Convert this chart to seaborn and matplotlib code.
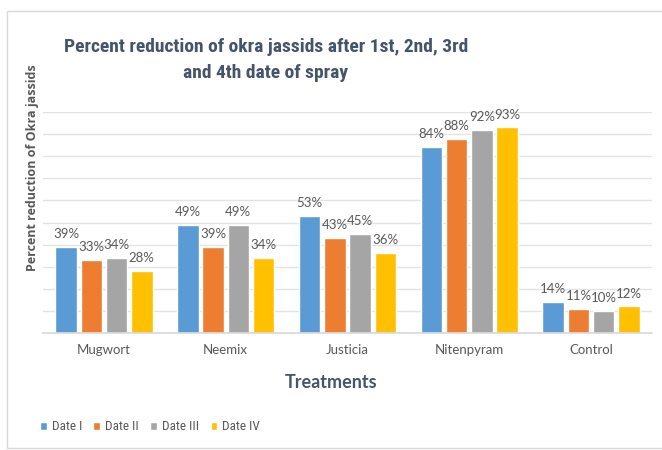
import pandas as pd
import matplotlib.pyplot as plt
import matplotlib.patches as mpatches
from matplotlib import font_manager
import seaborn as sns

treatments = ["Mugwort", "Neemix", "Justicia", "Nitenpyram", "Control"]
dates = ["Date I", "Date II", "Date III", "Date IV"]
date_1 = [39, 49, 53, 84, 14]
date_2 = [33, 39, 43, 88, 11]
date_3 = [34, 49, 45, 92, 10]
date_4 = [28, 34, 36, 93, 12]
colors = ["#5B9BD5", "#ED7D31", "#A5A5A5", "#FFC000"]

rows = []
for d, vals in zip(dates, [date_1, date_2, date_3, date_4]):
    for t, v in zip(treatments, vals):
        rows.append({"Treatment": t, "Date": d, "Value": v})
df = pd.DataFrame(rows)

# pick a condensed face for the title if one is around
installed = {f.name for f in font_manager.fontManager.ttflist}
cond = next((n for n in ["Roboto Condensed", "Asap Condensed", "Sofia Sans Semi Condensed"]
             if n in installed), "Lato")

sns.set_theme(style="white")
plt.rcParams["font.family"] = ["Lato", "DejaVu Sans"]
text_col = "#595959"
title_col = "#44546A"

fig = plt.figure(figsize=(6.62, 4.5), dpi=100)
ax = fig.add_axes([43 / 662, 1 - 333 / 450, 609 / 662, 221 / 450])

sns.barplot(data=df, x="Treatment", y="Value", hue="Date", palette=colors,
            order=treatments, hue_order=dates, width=0.83, gap=0.15,
            saturation=1, ax=ax, legend=True)

for cont in ax.containers:
    ax.bar_label(cont, labels=[f"{int(v)}%" for v in cont.datavalues],
                 padding=5, color=text_col, fontsize=9.5)

ax.set_ylim(0, 100)
ax.set_xlim(-0.5, 4.5)
ax.set_yticks(range(0, 101, 10))
ax.set_yticklabels([])
ax.grid(axis="y", color="#E3E3E3", linewidth=1)
ax.set_axisbelow(True)
for s in ["top", "right", "left"]:
    ax.spines[s].set_visible(False)
ax.spines["bottom"].set_color("#D9D9D9")
ax.tick_params(axis="x", colors=text_col, labelsize=9.5, length=0, pad=8)
ax.tick_params(axis="y", length=0)
ax.set_xlabel("")
ax.set_ylabel("")

fig.text(331 / 662, 1 - 382 / 450, "Treatments", ha="center", va="center",
         fontsize=13, fontweight="bold", color=title_col)
fig.text(33 / 662, 1 - 168 / 450, "Percent reduction of Okra jassids", rotation=90,
         ha="center", va="center", fontsize=9, fontweight="bold", color=text_col,
         family=["Open Sans", "DejaVu Sans"])
fig.text(266 / 662, 1 - 60 / 450,
         "Percent reduction of okra jassids after 1st, 2nd, 3rd\nand 4th date of spray",
         ha="center", va="center", multialignment="center", fontsize=14,
         fontweight="bold", color=title_col, linespacing=1.6,
         family=[cond, "DejaVu Sans"])

handles, labels = ax.get_legend_handles_labels()
ax.legend_.remove()
fig.legend(handles, labels, loc="center left", bbox_to_anchor=(40 / 662, 1 - 427 / 450),
           ncol=4, frameon=False, handlelength=0.5, handleheight=0.5,
           handletextpad=0.4, columnspacing=0.85, borderpad=0, borderaxespad=0,
           labelcolor=text_col, prop={"family": [cond, "DejaVu Sans"], "size": 9.5})

fig.patches.append(mpatches.Rectangle((7 / 662, 2 / 450), 660 / 662, 437 / 450,
                                      transform=fig.transFigure, fill=False,
                                      edgecolor="#D9D9D9", linewidth=1))

fig.savefig("out.png", dpi=100)
